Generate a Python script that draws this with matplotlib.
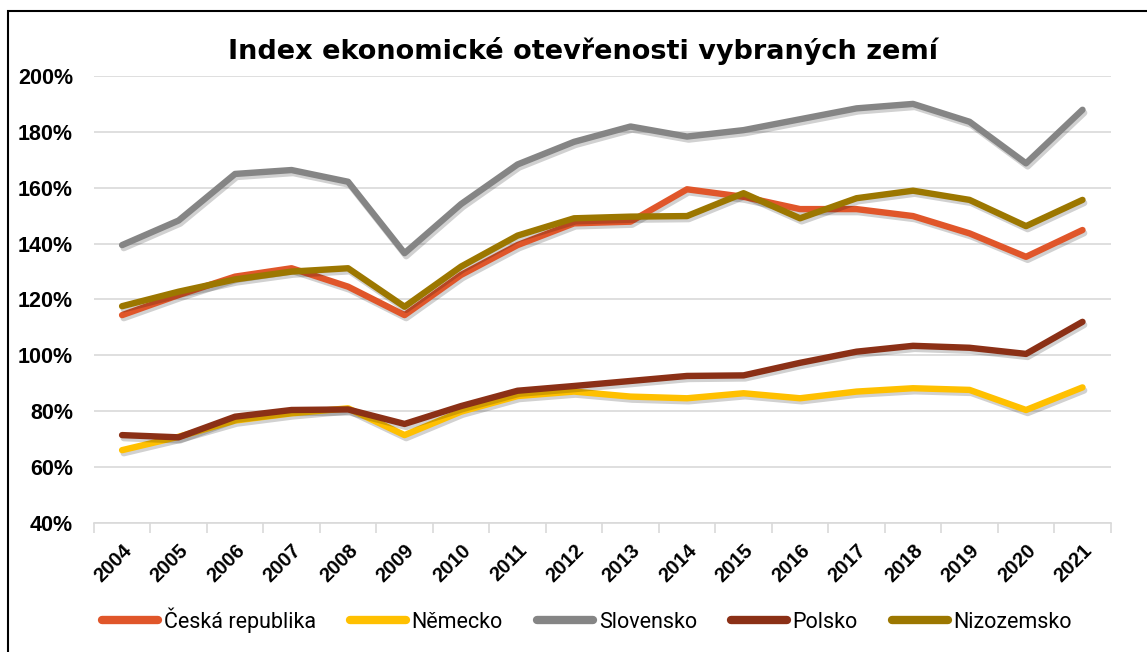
import numpy as np
import matplotlib.pyplot as plt
import matplotlib.patheffects as pe
from matplotlib.patches import Rectangle

years = [str(y) for y in range(2004, 2022)]

cesko = [114.4, 121.6, 128.2, 131.2, 124.6, 114.4, 128.8, 139.5, 147.3, 147.9,
         159.5, 156.8, 152.4, 152.4, 149.9, 143.7, 135.3, 144.9]
nemecko = [66.0, 70.8, 76.6, 79.2, 81.0, 71.4, 79.8, 85.4, 87.0, 85.2,
           84.6, 86.4, 84.6, 87.0, 88.2, 87.6, 80.4, 88.5]
slovensko = [139.5, 148.3, 165.0, 166.4, 162.2, 136.6, 154.2, 168.4, 176.5, 182.0,
             178.4, 180.7, 184.6, 188.5, 190.1, 183.7, 168.8, 188.0]
polsko = [71.4, 70.6, 78.0, 80.4, 80.6, 75.4, 81.8, 87.3, 89.0, 90.8,
          92.6, 92.8, 97.3, 101.3, 103.4, 102.7, 100.5, 112.0]
nizozemsko = [117.6, 122.8, 127.2, 130.0, 131.2, 117.4, 131.8, 142.9, 149.1, 149.7,
              149.9, 158.1, 149.1, 156.3, 159.0, 155.7, 146.3, 155.7]

series = [
    ("Česká republika", cesko, "#E0562A"),
    ("Německo", nemecko, "#FFC000"),
    ("Slovensko", slovensko, "#858585"),
    ("Polsko", polsko, "#8B3016"),
    ("Nizozemsko", nizozemsko, "#9C7700"),
]

fig = plt.figure(figsize=(11.47, 6.52), dpi=100)
ax = fig.add_axes([0.0818, 0.1983, 0.8866, 0.6847])

x = np.arange(len(years))
shadow = [pe.SimpleLineShadow(offset=(1.2, -2.2), alpha=0.18, shadow_color="black"), pe.Normal()]
for name, vals, col in series:
    ax.plot(x, vals, color=col, lw=4.6, label=name, solid_capstyle="round",
            solid_joinstyle="round", path_effects=shadow, zorder=3)

ax.set_xlim(-0.5, len(years) - 0.5)
ax.set_ylim(40, 200)
ax.set_yticks(np.arange(40, 201, 20))
ax.set_yticklabels([f"{v}%" for v in range(40, 201, 20)],
                   fontfamily="Liberation Sans", fontweight="bold", fontsize=15.5)
ax.grid(axis="y", color="#D9D9D9", lw=1.2, zorder=0)
ax.tick_params(axis="y", length=0, pad=15)

ax.set_xticks(x)
ax.set_xticklabels(years, rotation=45, ha="right", rotation_mode="anchor",
                   fontfamily="Liberation Sans", fontweight="bold", fontsize=14.5)
ax.tick_params(axis="x", which="major", length=0, pad=13)
ax.set_xticks(np.arange(-0.5, len(years), 1), minor=True)
ax.tick_params(axis="x", which="minor", length=7, color="#D9D9D9", width=1.2)

for s in ["top", "right", "left"]:
    ax.spines[s].set_visible(False)
ax.spines["bottom"].set_color("#D9D9D9")
ax.spines["bottom"].set_linewidth(1.2)

fig.text(0.508, 0.922, "Index ekonomické otevřenosti vybraných zemí",
         ha="center", va="center", fontfamily="DejaVu Sans", fontweight="bold",
         fontsize=19.5)

leg = fig.legend(loc="center", bbox_to_anchor=(0.512, 0.049), ncol=5, frameon=False,
                 prop={"family": "Roboto", "size": 15.5}, handlelength=2.6,
                 handletextpad=0.25, columnspacing=1.6)
for h in leg.get_lines():
    h.set_linewidth(6)
    h.set_solid_capstyle("round")
    h.set_path_effects([])

fig.patches.append(Rectangle((8 / 1147, -0.1), 1.2, 1 - 10.5 / 652 + 0.1,
                             transform=fig.transFigure, fill=False,
                             edgecolor="black", lw=1.5))

fig.savefig("out.png", dpi=100)
